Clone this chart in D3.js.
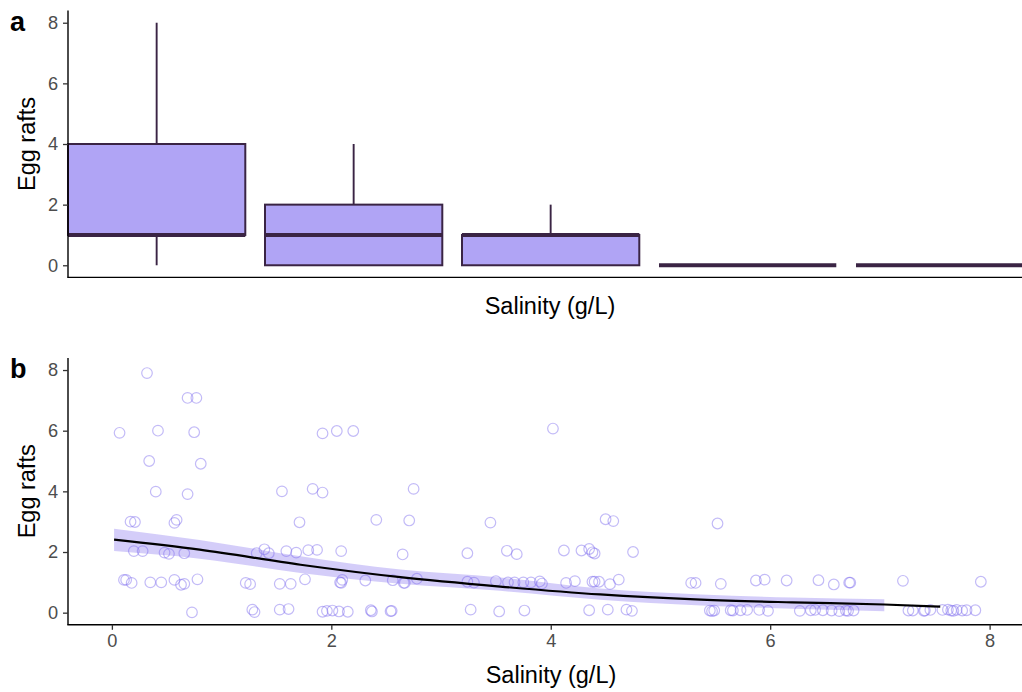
<!DOCTYPE html>
<html>
<head>
<meta charset="utf-8">
<script src="https://cdn.jsdelivr.net/npm/d3@7"></script>
<style>
  body { margin: 0; background: #fff; }
  svg { display: block; font-family: "Liberation Sans", Arial, sans-serif; }
</style>
</head>
<body>
<svg id="chart"></svg>
<script>
// panel a: box summaries per salinity group (axis labels hidden in the original)
var groups = ["1", "2", "3", "4", "5"];
var boxMin = [0, 0, 0, 0, 0];
var boxQ1 = [1, 0, 0, 0, 0];
var boxMed = [1, 1, 1, 0, 0];
var boxQ3 = [4, 2, 1, 0, 0];
var boxMax = [8, 4, 2, 0, 0];

// panel b: jittered observations
var salinity = [
  0.07, 0.42, 0.75, 0.32, 0.69, 0.77, 0.34, 0.81, 0.40, 0.69,
  0.17, 0.21, 0.57, 0.59, 0.20, 0.28, 0.48, 0.52, 0.66,
  0.11, 0.13, 0.18, 0.35, 0.45, 0.57, 0.63, 0.66, 0.78, 0.73,
  1.55, 1.83, 1.92, 1.92, 2.05, 2.20, 1.71, 2.41, 2.71, 2.75,
  1.32, 1.39, 1.43, 1.59, 1.68, 1.79, 1.87, 2.09, 2.65,
  1.22, 1.26, 1.53, 1.63, 1.76, 2.08, 2.10, 2.09, 2.31, 2.56, 2.66, 2.67, 2.78,
  1.28, 1.30, 1.53, 1.61, 1.92, 1.96, 2.01, 2.07, 2.15, 2.36, 2.37, 2.54, 2.55,
  4.02, 3.45, 4.50, 4.57,
  3.24, 3.60, 3.69, 4.12, 4.28, 4.35, 4.38, 4.40, 4.75,
  3.24, 3.30, 3.50, 3.61, 3.67, 3.75, 3.82, 3.90, 3.92, 4.14, 4.22, 4.38, 4.40, 4.44, 4.54, 4.62,
  3.27, 3.53, 3.76, 4.35, 4.52, 4.69, 4.74,
  5.52,
  5.28, 5.32, 5.55, 5.87, 5.95, 6.15, 6.44, 6.58, 6.72, 6.73, 7.21, 7.92,
  5.45, 5.47, 5.49, 5.64, 5.66, 5.73, 5.79, 5.90, 5.98, 6.27, 6.37, 6.41, 6.48,
  6.56, 6.63, 6.69, 6.71, 6.76, 7.26, 7.30, 7.40, 7.41, 7.46, 7.57, 7.62, 7.65,
  7.67, 7.70, 7.75, 7.79, 7.87
];
var eggRafts = [
  5.93, 6.00, 5.95, 7.90, 7.08, 7.08, 5.00, 4.91, 3.99, 3.91,
  3.00, 2.99, 2.96, 3.06, 2.03, 2.03, 1.98, 1.94, 1.96,
  1.08, 1.08, 0.98, 1.00, 1.00, 1.08, 0.92, 0.95, 1.10, 0.01,
  4.00, 4.08, 3.96, 5.91, 5.99, 5.99, 2.98, 3.06, 3.04, 4.08,
  1.96, 2.09, 1.96, 2.03, 1.98, 2.06, 2.07, 2.03, 1.92,
  0.98, 0.94, 0.95, 0.95, 1.10, 1.00, 1.08, 0.98, 1.06, 1.07, 0.98, 0.98, 1.12,
  0.10, 0.02, 0.10, 0.12, 0.03, 0.06, 0.07, 0.04, 0.03, 0.08, 0.04, 0.05, 0.06,
  6.07, 2.97, 3.08, 3.02,
  1.96, 2.04, 1.93, 2.05, 2.05, 2.10, 1.99, 1.95, 2.00,
  1.02, 0.99, 1.04, 1.00, 1.00, 1.00, 1.00, 1.03, 0.96, 0.98, 1.04, 1.02, 1.02, 1.02, 0.94, 1.09,
  0.10, 0.04, 0.07, 0.08, 0.10, 0.10, 0.06,
  2.94,
  0.98, 0.98, 0.95, 1.06, 1.09, 1.06, 1.07, 0.93, 0.99, 0.99, 1.05, 1.02,
  0.07, 0.05, 0.07, 0.08, 0.07, 0.08, 0.09, 0.09, 0.06, 0.06, 0.08, 0.09, 0.08,
  0.07, 0.05, 0.07, 0.06, 0.07, 0.07, 0.07, 0.06, 0.07, 0.09, 0.09, 0.10, 0.07,
  0.06, 0.09, 0.07, 0.08, 0.08
];

// panel b: fitted trend and its confidence band
var smoothX = [0.02, 0.8, 1.72, 2.63, 3.54, 4.45, 5.37, 6.2, 7.04, 7.55];
var smoothFit = [2.41, 2.08, 1.58, 1.17, 0.86, 0.60, 0.43, 0.34, 0.27, 0.20];
var bandX = [0.02, 0.8, 1.72, 2.63, 3.54, 4.45, 5.37, 6.2, 7.04];
var bandLow = [2.03, 1.78, 1.31, 0.95, 0.72, 0.43, 0.24, 0.13, 0.05];
var bandHigh = [2.77, 2.40, 1.86, 1.42, 1.16, 0.80, 0.60, 0.50, 0.44];

var yTicks = [0, 2, 4, 6, 8];
var xTicks = [0, 2, 4, 6, 8];

var svgWidth = 1022, svgHeight = 692;
var purple = "#7b68ee", dark = "#3a2444";

var svg = d3.select("#chart")
  .attr("width", svgWidth)
  .attr("height", svgHeight);

// ---- panel a ----
var xa = d3.scaleBand()
  .domain(groups)
  .range([58.15, 1043.15])
  .paddingInner(0.1)
  .paddingOuter(0.05);
var ya = d3.scaleLinear().domain([-0.4, 8.4]).range([277.4, 10.6]);

var ga = svg.append("g");

var boxes = ga.selectAll(".box")
  .data(groups)
  .enter().append("g");

boxes.append("line")
  .attr("x1", function(d) { return xa(d) + xa.bandwidth() / 2; })
  .attr("x2", function(d) { return xa(d) + xa.bandwidth() / 2; })
  .attr("y1", function(d, i) { return ya(boxQ3[i]); })
  .attr("y2", function(d, i) { return ya(boxMax[i]); })
  .attr("stroke", dark).attr("stroke-width", 1.9);

boxes.append("line")
  .attr("x1", function(d) { return xa(d) + xa.bandwidth() / 2; })
  .attr("x2", function(d) { return xa(d) + xa.bandwidth() / 2; })
  .attr("y1", function(d, i) { return ya(boxQ1[i]); })
  .attr("y2", function(d, i) { return ya(boxMin[i]); })
  .attr("stroke", dark).attr("stroke-width", 1.9);

boxes.append("rect")
  .attr("x", function(d) { return xa(d); })
  .attr("width", xa.bandwidth())
  .attr("y", function(d, i) { return ya(boxQ3[i]); })
  .attr("height", function(d, i) { return ya(boxQ1[i]) - ya(boxQ3[i]); })
  .attr("fill", purple).attr("fill-opacity", 0.6)
  .attr("stroke", dark).attr("stroke-width", 2);

boxes.append("line")
  .attr("x1", function(d) { return xa(d); })
  .attr("x2", function(d) { return xa(d) + xa.bandwidth(); })
  .attr("y1", function(d, i) { return ya(boxMed[i]); })
  .attr("y2", function(d, i) { return ya(boxMed[i]); })
  .attr("stroke", dark).attr("stroke-width", 4);

var axisA = ga.append("g")
  .attr("transform", "translate(68,0)")
  .call(d3.axisLeft(ya).tickValues(yTicks).tickSize(5).tickPadding(5));
axisA.select(".domain").attr("d", "M0," + ya(8.4) + "V" + ya(-0.4));

ga.append("line")
  .attr("x1", 67.3).attr("x2", svgWidth)
  .attr("y1", ya(-0.4)).attr("y2", ya(-0.4))
  .attr("stroke", "#000").attr("stroke-width", 1.4);

ga.append("text")
  .attr("x", 550).attr("y", 314)
  .attr("text-anchor", "middle")
  .attr("font-size", 23.5)
  .text("Salinity (g/L)");

ga.append("text")
  .attr("transform", "translate(35," + ((ya(8.4) + ya(-0.4)) / 2) + ") rotate(-90)")
  .attr("text-anchor", "middle")
  .attr("font-size", 23.5)
  .text("Egg rafts");

ga.append("text")
  .attr("x", 10).attr("y", 31)
  .attr("font-size", 27).attr("font-weight", "bold")
  .text("a");

// ---- panel b ----
var xb = d3.scaleLinear().domain([-0.4, 8.4]).range([68, 1033.5]);
var yb = d3.scaleLinear().domain([-0.4, 8.4]).range([624.8, 357.9]);

var gb = svg.append("g");

gb.selectAll(".pt")
  .data(salinity)
  .enter().append("circle")
  .attr("cx", function(d) { return xb(d); })
  .attr("cy", function(d, i) { return yb(eggRafts[i]); })
  .attr("r", 5.3)
  .attr("fill", "none")
  .attr("stroke", purple)
  .attr("stroke-opacity", 0.45)
  .attr("stroke-width", 1.2);

var area = d3.area()
  .x(function(d) { return xb(d); })
  .y0(function(d, i) { return yb(bandLow[i]); })
  .y1(function(d, i) { return yb(bandHigh[i]); })
  .curve(d3.curveMonotoneX);

gb.append("path")
  .datum(bandX)
  .attr("fill", purple)
  .attr("fill-opacity", 0.33)
  .attr("d", area);

var line = d3.line()
  .x(function(d) { return xb(d); })
  .y(function(d, i) { return yb(smoothFit[i]); })
  .curve(d3.curveMonotoneX);

gb.append("path")
  .datum(smoothX)
  .attr("fill", "none")
  .attr("stroke", "#000")
  .attr("stroke-width", 2.2)
  .attr("d", line);

var axisBY = gb.append("g")
  .attr("transform", "translate(68,0)")
  .call(d3.axisLeft(yb).tickValues(yTicks).tickSize(5).tickPadding(5));
axisBY.select(".domain").attr("d", "M0," + yb(8.4) + "V" + yb(-0.4));

var axisBX = gb.append("g")
  .attr("transform", "translate(0," + yb(-0.4) + ")")
  .call(d3.axisBottom(xb).tickValues(xTicks).tickSize(5).tickPadding(4));
axisBX.select(".domain").attr("d", "M67.3,0H" + svgWidth);

gb.append("text")
  .attr("x", 551).attr("y", 683)
  .attr("text-anchor", "middle")
  .attr("font-size", 23.5)
  .text("Salinity (g/L)");

gb.append("text")
  .attr("transform", "translate(35," + ((yb(8.4) + yb(-0.4)) / 2) + ") rotate(-90)")
  .attr("text-anchor", "middle")
  .attr("font-size", 23.5)
  .text("Egg rafts");

gb.append("text")
  .attr("x", 10).attr("y", 378)
  .attr("font-size", 27).attr("font-weight", "bold")
  .text("b");

// shared axis styling
svg.selectAll(".domain").attr("stroke", "#000").attr("stroke-width", 1.4);
svg.selectAll(".tick line").attr("stroke", "#333").attr("stroke-width", 1.3);
svg.selectAll(".tick text")
  .attr("font-size", 18.2)
  .attr("fill", "#4d4d4d")
  .attr("font-family", "\"Liberation Sans\", Arial, sans-serif");
</script>
</body>
</html>
